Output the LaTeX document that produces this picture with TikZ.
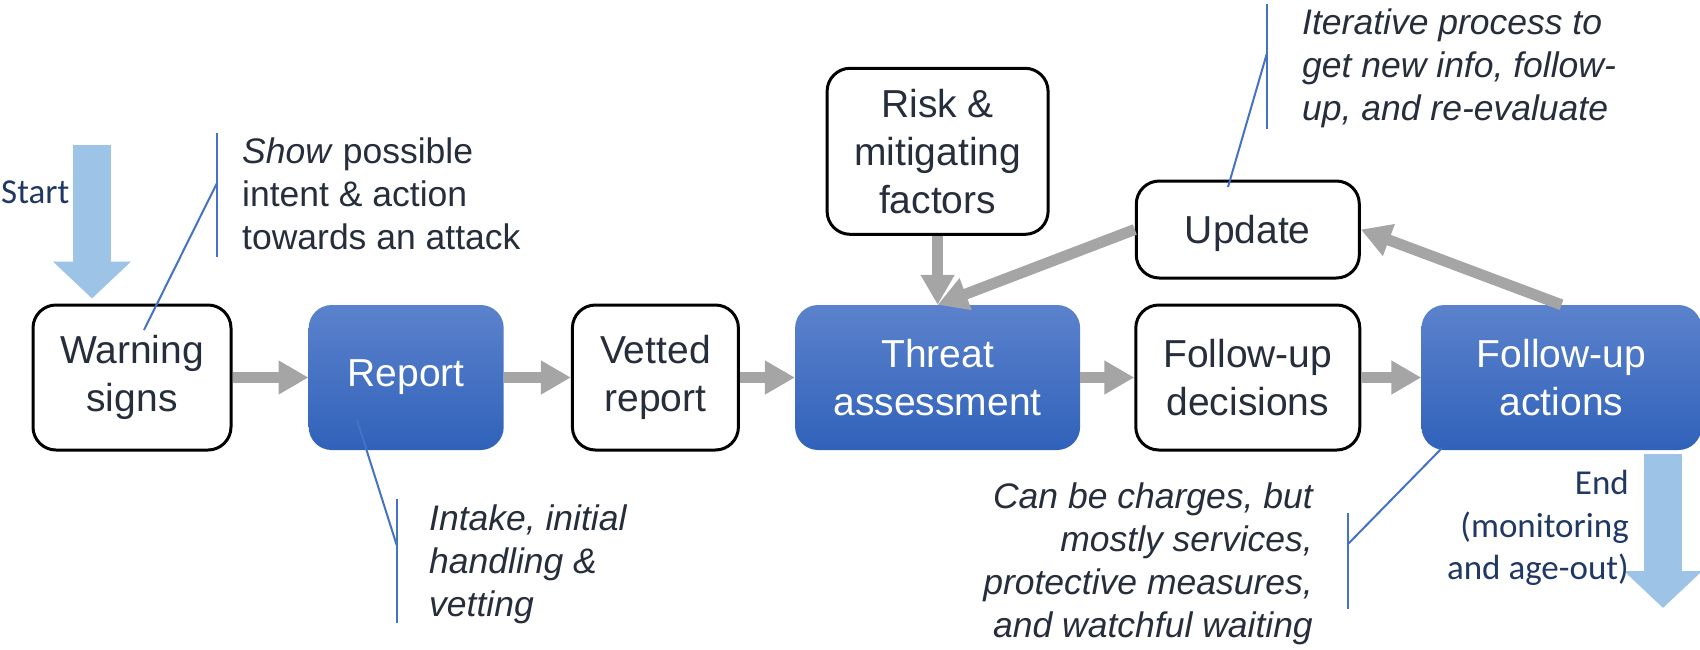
\documentclass[tikz,border=0pt]{standalone}
\usepackage{fontspec}
\setmainfont{Liberation Sans}
\newfontfamily\calfont{Carlito}
\usepackage[HTML]{xcolor}
\usetikzlibrary{positioning, arrows.meta}

\definecolor{inkdark}{HTML}{262E3B}
\definecolor{navytext}{HTML}{1F3864}
\definecolor{flowgrey}{HTML}{A5A5A5}
\definecolor{leadblue}{HTML}{4472C4}
\definecolor{pathblue}{HTML}{9DC3E6}
\definecolor{boxtop}{HTML}{5B82CC}
\definecolor{boxbot}{HTML}{3062BA}

\begin{document}
\begin{tikzpicture}[
  x=1pt, y=-1pt,
  every node/.style={align=center, inner sep=0pt, text=inkdark},
  box/.style={font=\fontsize{39pt}{48pt}\selectfont, draw=black, line width=3pt, rounded corners=23pt, fill=white, minimum height=145pt},
  bluebox/.style={font=\fontsize{39pt}{48pt}\selectfont, rounded corners=23pt, top color=boxtop, bottom color=boxbot, text=white, minimum height=145pt},
  note/.style={font=\fontsize{35.5pt}{43pt}\selectfont},
  itnote/.style={font=\fontsize{35.5pt}{43pt}\selectfont\itshape},
  pathnote/.style={font=\fontsize{35pt}{42.5pt}\selectfont\calfont, text=navytext},
  arrow/.style={-{Triangle[width=32pt, length=30pt]}, line width=11pt, flowgrey},
  bigarrow/.style={-{Triangle[width=76pt, length=37pt]}, line width=38pt, pathblue},
  lead/.style={leadblue, line width=2pt}
  ]
\useasboundingbox (0,0) rectangle (1700,649);

\node[box, minimum width=198pt] (warn) at (132,377.5) {Warning\\signs};
\node[bluebox, minimum width=195pt, right=76pt of warn] (report) {Report};
\node[box, minimum width=166pt, right=67pt of report] (vetted) {Vetted\\report};
\node[bluebox, minimum width=285pt, right=55pt of vetted] (threat) {Threat\\assessment};
\node[box, minimum width=224pt, right=54pt of threat] (decide) {Follow-up\\decisions};
\node[bluebox, minimum width=280pt, right=60pt of decide] (act) {Follow-up\\actions};
\node[box, minimum width=221pt, minimum height=166pt, above=69pt of threat] (risk) {Risk \&\\mitigating\\factors};
\node[box, minimum width=223pt, minimum height=97pt, text depth=0pt, above=24pt of decide] (update) {Update};

\draw[arrow] (warn) -- (report);
\draw[arrow] (report) -- (vetted);
\draw[arrow] (vetted) -- (threat);
\draw[arrow] (threat) -- (decide);
\draw[arrow] (decide) -- (act);
\draw[arrow] (risk) -- (threat);
\draw[arrow] (update.west) -- (threat.north);
\draw[arrow] (act.north) -- (update.east);

\coordinate (startTop) at (92,145);
\coordinate (endTip) at (1663,608);
\draw[bigarrow, shorten >=5pt] (startTop) -- (startTop |- warn.north);
\draw[bigarrow, shorten <=4pt] (endTip |- act.south) -- (endTip);
\node[pathnote, anchor=base west] (starttxt) at (1,203) {Start};
\node[pathnote, anchor=north east, align=right] (endtxt) at (1629,470) {End\\(monitoring\\and age-out)};

\node[note, anchor=north west, align=left] (shownote) at (242,138) {\textit{Show} possible\\intent \& action\\towards an attack};
\node[itnote, anchor=north west, align=left] (intakenote) at (429,505) {Intake, initial\\handling \&\\vetting};
\node[itnote, anchor=north west, align=left] (iternote) at (1302,9) {Iterative process to\\get new info, follow-\\up, and re-evaluate};
\node[itnote, anchor=north east, align=right] (actnote) at (1313,483) {Can be charges, but\\mostly services,\\protective measures,\\and watchful waiting};

\coordinate (showTop) at (217,133);
\coordinate (showMid) at (217,183);
\coordinate (showBot) at (217,257);
\coordinate (warnPin) at (144,330);
\draw[lead] (showTop) -- (showBot);
\draw[lead] (showMid) -- (warnPin);

\coordinate (intakeTop) at (397,499);
\coordinate (intakeMid) at (397,546);
\coordinate (intakeBot) at (397,623);
\coordinate (reportPin) at (357,420);
\draw[lead] (intakeTop) -- (intakeBot);
\draw[lead] (intakeMid) -- (reportPin);

\coordinate (iterTop) at (1267,4);
\coordinate (iterMid) at (1267,53);
\coordinate (iterBot) at (1267,129);
\coordinate (updatePin) at (1228,187);
\draw[lead] (iterTop) -- (iterBot);
\draw[lead] (iterMid) -- (updatePin);

\coordinate (actTop) at (1348,513);
\coordinate (actMid) at (1348,544);
\coordinate (actBot) at (1348,609);
\coordinate (actPin) at (1442,448);
\draw[lead] (actTop) -- (actBot);
\draw[lead] (actMid) -- (actPin);
\end{tikzpicture}
\end{document}
